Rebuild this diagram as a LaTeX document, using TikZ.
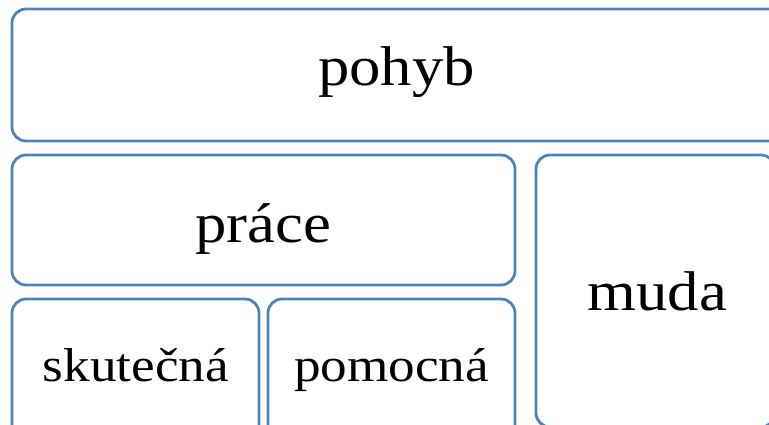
\documentclass[tikz,border=0pt]{standalone}
\usepackage{fontspec}
\setmainfont{Liberation Serif}
\usepackage{tikz}
\definecolor{boxblue}{RGB}{79,129,189}

% text is set a little wide
\newcommand{\widetext}[1]{\scalebox{1.12}[1]{#1}}

\begin{document}
\begin{tikzpicture}[
  x=1pt, y=-1pt,
  box/.style={draw=boxblue, line width=2.8pt, rounded corners=14pt},
  big/.style={anchor=base, inner sep=0pt, font=\fontsize{56}{64}\selectfont},
  small/.style={anchor=base, inner sep=0pt, font=\fontsize{47.5}{54}\selectfont}
]
\useasboundingbox (0,0) rectangle (769,425);
\clip (0,0) rectangle (769,425);

% frames
\draw[box] (12,9) rectangle (784,141);
\draw[box] (12,155) rectangle (515,285);
\draw[box] (12,299) rectangle (259,445);
\draw[box] (268,299) rectangle (515,445);
\draw[box] (536,155) rectangle (775,427);

% labels
\node[big] (pohyb) at (396.5,86) {\widetext{pohyb}};
\node[big] (prace) at (263,242) {\widetext{práce}};
\node[big] (muda) at (657.5,310) {\widetext{muda}};
\node[small] (skutecna) at (136,381) {\widetext{skutečná}};
\node[small] (pomocna) at (391.5,381) {\widetext{pomocná}};
\end{tikzpicture}
\end{document}
